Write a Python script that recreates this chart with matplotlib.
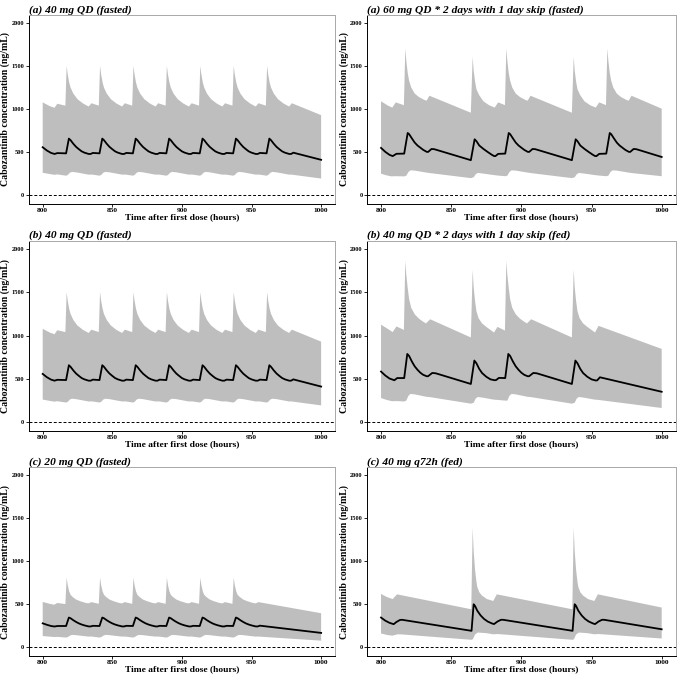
import numpy as np
import matplotlib
matplotlib.use('Agg')
import matplotlib.pyplot as plt

plt.rcParams['font.family'] = ['Liberation Serif', 'DejaVu Serif']

# ---------------- data ----------------
TITLES = ["(a) 40 mg QD (fasted)", "(a) 60 mg QD * 2 days with 1 day skip (fasted)",
          "(b) 40 mg QD (fasted)", "(b) 40 mg QD * 2 days with 1 day skip (fed)",
          "(c) 20 mg QD (fasted)", "(c) 40 mg q72h (fed)"]
X_TICKS = [800, 850, 900, 950, 1000]
Y_TICKS = [0, 500, 1000, 1500, 2000]

# 40 mg QD fasted (panels a-left and b-left show the same simulation)
QD40_UP_T = [800, 805, 808.5, 810.5, 816.3,
             817.2, 818, 819, 820, 822, 825, 829, 833, 835, 840.3,
             841.2, 842, 843, 844, 846, 849, 853, 857, 859, 864.3,
             865.2, 866, 867, 868, 870, 873, 877, 881, 883, 888.3,
             889.2, 890, 891, 892, 894, 897, 901, 905, 907, 912.3,
             913.2, 914, 915, 916, 918, 921, 925, 929, 931, 936.3,
             937.2, 938, 939, 940, 942, 945, 949, 953, 955, 960.3,
             961.2, 962, 963, 964, 966, 969, 973, 977, 979, 1000]
QD40_UP_V = [1078, 1035, 1015, 1062, 1040,
             1500, 1400, 1310, 1250, 1180, 1115, 1065, 1030, 1068, 1040,
             1500, 1400, 1310, 1250, 1180, 1115, 1065, 1030, 1068, 1040,
             1500, 1400, 1310, 1250, 1180, 1115, 1065, 1030, 1068, 1040,
             1500, 1400, 1310, 1250, 1180, 1115, 1065, 1030, 1068, 1040,
             1500, 1400, 1310, 1250, 1180, 1115, 1065, 1030, 1068, 1040,
             1500, 1400, 1310, 1250, 1180, 1115, 1065, 1030, 1068, 1040,
             1500, 1400, 1310, 1250, 1180, 1115, 1065, 1030, 1068, 930]
QD40_MED_T = [800, 803, 806, 808.5, 810.5, 816.8,
              818.8, 820, 822, 824, 826, 828, 830, 833, 834.5, 836, 840.8,
              842.8, 844, 846, 848, 850, 852, 854, 857, 858.5, 860, 864.8,
              866.8, 868, 870, 872, 874, 876, 878, 881, 882.5, 884, 888.8,
              890.8, 892, 894, 896, 898, 900, 902, 905, 906.5, 908, 912.8,
              914.8, 916, 918, 920, 922, 924, 926, 929, 930.5, 932, 936.8,
              938.8, 940, 942, 944, 946, 948, 950, 953, 954.5, 956, 960.8,
              962.8, 964, 966, 968, 970, 972, 974, 977, 978.5, 980, 1000]
QD40_MED_V = [558, 520, 492, 480, 490, 487,
              658, 640, 598, 562, 535, 510, 495, 480, 480, 492, 487,
              658, 640, 598, 562, 535, 510, 495, 480, 480, 492, 487,
              658, 640, 598, 562, 535, 510, 495, 480, 480, 492, 487,
              658, 640, 598, 562, 535, 510, 495, 480, 480, 492, 487,
              658, 640, 598, 562, 535, 510, 495, 480, 480, 492, 487,
              658, 640, 598, 562, 535, 510, 495, 480, 480, 492, 487,
              658, 640, 598, 562, 535, 510, 495, 480, 480, 495, 412]
QD40_LO_T = [800, 804, 808.5, 810.5, 816.8,
             818, 819.5, 821, 824, 829, 833, 834.5, 836, 840.8,
             842, 843.5, 845, 848, 853, 857, 858.5, 860, 864.8,
             866, 867.5, 869, 872, 877, 881, 882.5, 884, 888.8,
             890, 891.5, 893, 896, 901, 905, 906.5, 908, 912.8,
             914, 915.5, 917, 920, 925, 929, 930.5, 932, 936.8,
             938, 939.5, 941, 944, 949, 953, 954.5, 956, 960.8,
             962, 963.5, 965, 968, 973, 977, 978.5, 1000]
QD40_LO_V = [262, 250, 238, 243, 228,
             236, 262, 272, 267, 252, 240, 241, 240, 228,
             236, 262, 272, 267, 252, 240, 241, 240, 228,
             236, 262, 272, 267, 252, 240, 241, 240, 228,
             236, 262, 272, 267, 252, 240, 241, 240, 228,
             236, 262, 272, 267, 252, 240, 241, 240, 228,
             236, 262, 272, 267, 252, 240, 241, 240, 228,
             236, 262, 272, 267, 252, 240, 241, 195]

# 60 mg QD * 2 days with 1 day skip (fasted)
SK60_UP_T = [800, 805, 808, 810.5, 816.3,
             817.3, 818, 819, 820, 821.5, 824, 827, 831, 832.5, 834.5, 864,
             865.3, 866, 867, 868, 870, 873, 877, 881, 883.5, 888.3,
             889.3, 890, 891, 892, 893.5, 896, 899, 903, 904.5, 906.5, 936,
             937.3, 938, 939, 940, 942, 945, 949, 953, 955.5, 960.3,
             961.3, 962, 963, 964, 965.5, 968, 971, 975, 976.5, 978.5, 1000]
SK60_UP_V = [1090, 1040, 1017, 1078, 1045,
             1702, 1560, 1420, 1330, 1250, 1180, 1140, 1105, 1098, 1155, 958,
             1605, 1450, 1320, 1230, 1160, 1090, 1045, 1018, 1078, 1046,
             1702, 1560, 1420, 1330, 1250, 1180, 1140, 1105, 1098, 1155, 958,
             1605, 1450, 1320, 1230, 1160, 1090, 1045, 1018, 1078, 1046,
             1702, 1560, 1420, 1330, 1250, 1180, 1140, 1105, 1098, 1155, 1005]
SK60_MED_T = [800, 803, 806, 808.3, 811, 816.5,
              819, 820, 822, 824, 826, 828, 830, 832.5, 833.5, 836, 838, 864,
              866.7, 868, 870, 873, 876, 879, 880.5, 881.5, 883.5, 888.5,
              891, 892, 894, 896, 898, 900, 902, 904.5, 905.5, 908, 910, 936,
              938.7, 940, 942, 945, 948, 951, 952.5, 953.5, 955.5, 960.5,
              963, 964, 966, 968, 970, 972, 974, 976.5, 977.5, 980, 982, 1000]
SK60_MED_V = [550, 505, 470, 455, 482, 484,
              723, 710, 660, 612, 578, 553, 528, 505, 503, 538, 535, 408,
              650, 628, 578, 538, 503, 470, 456, 455, 481, 484,
              723, 710, 660, 612, 578, 553, 528, 505, 503, 538, 535, 408,
              650, 628, 578, 538, 503, 470, 456, 455, 481, 484,
              723, 710, 660, 612, 578, 553, 528, 505, 503, 538, 535, 445]
SK60_LO_T = [800, 804, 807, 811, 816.5,
             818, 819.5, 821, 824, 832, 835, 864,
             866, 867.5, 869, 873, 880, 883, 888.5,
             890, 891.5, 893, 896, 904, 907, 936,
             938, 939.5, 941, 945, 952, 955, 960.5,
             962, 963.5, 965, 968, 976, 979, 1000]
SK60_LO_V = [251, 232, 221, 222, 220,
             228, 270, 290, 287, 265, 258, 200,
             210, 245, 260, 252, 236, 230, 222,
             228, 270, 290, 287, 265, 258, 200,
             210, 245, 260, 252, 236, 230, 222,
             228, 270, 290, 287, 265, 258, 222]

# 40 mg QD * 2 days with 1 day skip (fed)
SK40_UP_T = [800, 805, 808.3, 811, 816.3,
             817.3, 818, 819, 820, 821.5, 824, 827, 830, 832, 835, 864,
             865.3, 866, 867, 868, 869.5, 872, 875, 878, 880.5, 883, 888.3,
             889.3, 890, 891, 892, 893.5, 896, 899, 902, 904, 907, 936,
             937.3, 938, 939, 940, 941.5, 944, 947, 950, 952.5, 955, 1000]
SK40_UP_V = [1125, 1075, 1040, 1105, 1065,
             1860, 1700, 1550, 1420, 1320, 1245, 1195, 1160, 1140, 1188, 978,
             1755, 1560, 1400, 1280, 1200, 1140, 1100, 1065, 1035, 1100, 1058,
             1860, 1700, 1550, 1420, 1320, 1245, 1195, 1160, 1140, 1188, 978,
             1755, 1560, 1400, 1280, 1200, 1140, 1100, 1065, 1035, 1112, 846]
SK40_MED_T = [800, 803, 806, 809.5, 811.5, 816.5,
              818.7, 820, 822, 824, 826, 828, 830, 832.5, 833.5, 836.5, 839, 864,
              866.5, 868, 870, 872, 875, 878, 881, 882, 884, 888.5,
              890.7, 892, 894, 896, 898, 900, 902, 904.5, 905.5, 908.5, 911, 936,
              938.5, 940, 942, 944, 947, 950, 953, 954, 956, 1000]
SK40_MED_V = [585, 540, 505, 485, 510, 510,
              788, 765, 700, 645, 605, 572, 548, 531, 531, 569, 565, 442,
              712, 680, 615, 568, 525, 495, 485, 487, 512, 510,
              788, 765, 700, 645, 605, 572, 548, 531, 531, 569, 565, 442,
              712, 680, 615, 568, 525, 495, 482, 483, 519, 352]
SK40_LO_T = [800, 804, 808, 811, 816.5,
             818, 819.5, 821, 824, 832, 835, 864,
             866, 867.5, 869, 873, 880, 883, 888.5,
             890, 891.5, 893, 896, 904, 907, 936,
             938, 939.5, 941, 945, 952, 955, 1000]
SK40_LO_V = [280, 258, 243, 245, 240,
             250, 305, 327, 322, 295, 290, 215,
             225, 275, 292, 283, 262, 258, 250,
             250, 305, 327, 322, 295, 290, 215,
             225, 275, 292, 283, 262, 258, 165]

# 20 mg QD (fasted)
QD20_UP_T = [800, 805, 808.3, 810.5, 816.3,
             817.2, 818, 819, 820, 821.5, 824, 827, 831, 833, 835, 840.3,
             841.2, 842, 843, 844, 845.5, 848, 851, 855, 857, 859, 864.3,
             865.2, 866, 867, 868, 869.5, 872, 875, 879, 881, 883, 888.3,
             889.2, 890, 891, 892, 893.5, 896, 899, 903, 905, 907, 912.3,
             913.2, 914, 915, 916, 917.5, 920, 923, 927, 929, 931, 936.3,
             937.2, 938, 939, 940, 941.5, 944, 947, 951, 953, 955, 1000]
QD20_UP_V = [527, 505, 495, 515, 502,
             808, 720, 650, 610, 585, 555, 535, 515, 510, 525, 505,
             808, 720, 650, 610, 585, 555, 535, 515, 510, 525, 505,
             808, 720, 650, 610, 585, 555, 535, 515, 510, 525, 505,
             808, 720, 650, 610, 585, 555, 535, 515, 510, 525, 505,
             808, 720, 650, 610, 585, 555, 535, 515, 510, 525, 505,
             808, 720, 650, 610, 585, 555, 535, 515, 510, 525, 396]
QD20_MED_T = [800, 803, 806, 808.5, 810.5, 816.8,
              818.8, 820, 822, 824, 826, 828, 830, 833, 834.5, 836, 840.8,
              842.8, 844, 846, 848, 850, 852, 854, 857, 858.5, 860, 864.8,
              866.8, 868, 870, 872, 874, 876, 878, 881, 882.5, 884, 888.8,
              890.8, 892, 894, 896, 898, 900, 902, 905, 906.5, 908, 912.8,
              914.8, 916, 918, 920, 922, 924, 926, 929, 930.5, 932, 936.8,
              938.8, 940, 942, 944, 946, 948, 950, 953, 954.5, 956, 1000]
QD20_MED_V = [279, 262, 248, 242, 248, 248,
              346, 338, 315, 295, 278, 265, 255, 243, 243, 250, 248,
              346, 338, 315, 295, 278, 265, 255, 243, 243, 250, 248,
              346, 338, 315, 295, 278, 265, 255, 243, 243, 250, 248,
              346, 338, 315, 295, 278, 265, 255, 243, 243, 250, 248,
              346, 338, 315, 295, 278, 265, 255, 243, 243, 250, 248,
              346, 338, 315, 295, 278, 265, 255, 243, 243, 252, 168]
QD20_LO_T = [800, 804, 808.5, 810.5, 816.8,
             818, 819.5, 821, 824, 829, 833, 834.5, 836, 840.8,
             842, 843.5, 845, 848, 853, 857, 858.5, 860, 864.8,
             866, 867.5, 869, 872, 877, 881, 882.5, 884, 888.8,
             890, 891.5, 893, 896, 901, 905, 906.5, 908, 912.8,
             914, 915.5, 917, 920, 925, 929, 930.5, 932, 936.8,
             938, 939.5, 941, 944, 949, 953, 954.5, 1000]
QD20_LO_V = [132, 126, 120, 122, 114,
             119, 135, 145, 142, 132, 125, 126, 124, 114,
             119, 135, 145, 142, 132, 125, 126, 124, 114,
             119, 135, 145, 142, 132, 125, 126, 124, 114,
             119, 135, 145, 142, 132, 125, 126, 124, 114,
             119, 135, 145, 142, 132, 125, 126, 124, 114,
             119, 135, 145, 142, 132, 125, 126, 78]

# 40 mg q72h (fed)
Q72_UP_T = [800, 804, 808.3, 811.4, 864.3,
            865.3, 866, 867, 868, 868.6, 870, 872, 875.5, 880, 882.5, 936.3,
            937.3, 938, 939, 940, 940.6, 942, 944, 947.5, 952, 954.5, 1000]
Q72_UP_V = [620, 585, 560, 615, 442,
            1385, 1120, 900, 760, 700, 640, 600, 560, 538, 615, 442,
            1385, 1120, 900, 760, 700, 640, 600, 560, 538, 615, 462]
Q72_MED_T = [800, 803, 806, 809, 811, 813.5, 815, 864.5,
             866, 867, 868.6, 871, 873.4, 876, 879, 880.5, 883, 885.5, 887, 936.5,
             938, 939, 940.6, 943, 945.4, 948, 951, 952.5, 955, 957.5, 959, 1000]
Q72_MED_V = [346, 310, 285, 269, 295, 318, 320, 192,
             500, 480, 425, 370, 330, 300, 278, 270, 300, 320, 320, 192,
             500, 480, 425, 370, 330, 300, 278, 270, 300, 320, 320, 210]
Q72_LO_T = [800, 804, 808, 812, 815, 864.5,
            865.5, 867, 869, 875, 880, 883, 936.5,
            937.5, 939, 941, 947, 952, 955, 1000]
Q72_LO_V = [162, 145, 136, 152, 150, 88,
            95, 150, 172, 165, 152, 155, 88,
            95, 150, 172, 165, 152, 155, 103]

# ---------------- drawing ----------------
BAND = '#BEBEBE'
fig = plt.figure(figsize=(6.77, 6.77), dpi=100)

col_x = [0.0425, 0.5421]
col_w = [0.4524, 0.4560]
row_y = [0.6987, 0.3634, 0.0310]
row_h = [0.2790, 0.2806, 0.2790]

series = [
    (QD40_UP_T, QD40_UP_V, QD40_MED_T, QD40_MED_V, QD40_LO_T, QD40_LO_V),
    (SK60_UP_T, SK60_UP_V, SK60_MED_T, SK60_MED_V, SK60_LO_T, SK60_LO_V),
    (QD40_UP_T, QD40_UP_V, QD40_MED_T, QD40_MED_V, QD40_LO_T, QD40_LO_V),
    (SK40_UP_T, SK40_UP_V, SK40_MED_T, SK40_MED_V, SK40_LO_T, SK40_LO_V),
    (QD20_UP_T, QD20_UP_V, QD20_MED_T, QD20_MED_V, QD20_LO_T, QD20_LO_V),
    (Q72_UP_T, Q72_UP_V, Q72_MED_T, Q72_MED_V, Q72_LO_T, Q72_LO_V),
]

for i, (title, s) in enumerate(zip(TITLES, series)):
    r, c = divmod(i, 2)
    ax = fig.add_axes([col_x[c], row_y[r], col_w[c], row_h[r]])
    ut, uv, mt, mv, lt, lv = [np.asarray(a, dtype=float) for a in s]
    ax.fill(np.concatenate([ut, lt[::-1]]), np.concatenate([uv, lv[::-1]]),
            color=BAND, lw=0, zorder=1)
    ax.plot(mt, mv, color='black', lw=1.3, zorder=3)
    ax.axhline(0, color='black', lw=0.7, ls=(0, (3, 2)), zorder=2)
    ax.set_xlim(790, 1010)
    ax.set_ylim(-100, 2090)
    ax.set_xticks(X_TICKS)
    ax.set_yticks(Y_TICKS)
    ax.tick_params(axis='both', length=2, width=0.6, direction='out')
    ax.tick_params(axis='x', labelsize=5.3, pad=1)
    ax.tick_params(axis='y', labelsize=4.6, pad=1.2)
    for lab in ax.get_xticklabels() + ax.get_yticklabels():
        lab.set_fontweight('bold')
    for side in ['left', 'bottom']:
        ax.spines[side].set_color('black')
        ax.spines[side].set_linewidth(0.7)
    for side in ['top', 'right']:
        ax.spines[side].set_color('#A8A8A8')
        ax.spines[side].set_linewidth(0.7)
    ax.set_title(title, loc='left', fontsize=8.2, fontweight='bold',
                 fontstyle='italic', pad=2)
    ax.set_xlabel('Time after first dose (hours)', fontsize=6.8,
                  fontweight='bold', labelpad=0)
    ax.set_ylabel('Cabozantinib concentration (ng/mL)', fontsize=7.0,
                  fontweight='bold', labelpad=0.8)

fig.savefig('out.png', dpi=100)
